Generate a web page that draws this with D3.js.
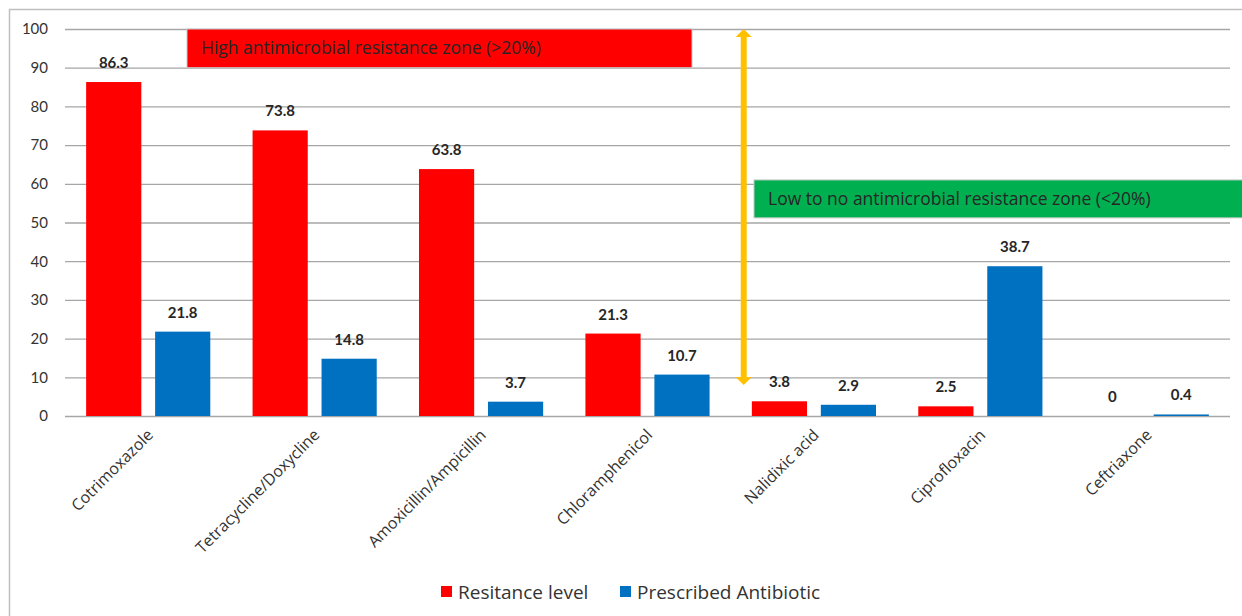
<!DOCTYPE html>
<html>
<head>
<meta charset="utf-8">
<script src="https://cdn.jsdelivr.net/npm/d3@7"></script>
<style>
  body { margin: 0; background: #fff; }
  svg { font-family: "Open Sans", Lato, sans-serif; }
</style>
</head>
<body>
<svg id="chart"></svg>
<script>
const categories = ["Cotrimoxazole", "Tetracycline/Doxycline", "Amoxicillin/Ampicillin",
  "Chloramphenicol", "Nalidixic acid", "Ciprofloxacin", "Ceftriaxone"];
const seriesNames = ["Resitance level", "Prescribed Antibiotic"];
const resistance = [86.3, 73.8, 63.8, 21.3, 3.8, 2.5, 0];
const prescribed = [21.8, 14.8, 3.7, 10.7, 2.9, 38.7, 0.4];
const yTicks = [0, 10, 20, 30, 40, 50, 60, 70, 80, 90, 100];
const colors = ["#FF0000", "#0070C0"];

const W = 1242, H = 616;
const margin = { top: 29, right: 12, bottom: 200, left: 65 };
const width = W - margin.left - margin.right;
const height = H - margin.top - margin.bottom;

const svg = d3.select("#chart").attr("width", W).attr("height", H);

// outer chart border
svg.append("rect")
  .attr("x", 9.5).attr("y", 9.5)
  .attr("width", W).attr("height", H)
  .attr("fill", "none").attr("stroke", "#BFBFBF").attr("stroke-width", 1.5);

const g = svg.append("g").attr("transform", `translate(${margin.left},${margin.top})`);

const x0 = d3.scaleBand().domain(categories).range([0, width]);
const x1 = d3.scaleBand().domain(seriesNames)
  .range([x0.bandwidth() * 0.127, x0.bandwidth() * 0.873])
  .paddingInner(0.2);
const y = d3.scaleLinear().domain([0, 100]).range([height, 0]);

// gridlines
g.append("g").selectAll("line")
  .data(yTicks)
  .join("line")
  .attr("x1", 0).attr("x2", width)
  .attr("y1", (d) => y(d) + 0.5).attr("y2", (d) => y(d) + 0.5)
  .attr("stroke", "#A6A6A6").attr("stroke-width", 1.3);

// y axis labels
const yAxis = d3.axisLeft(y).tickValues(yTicks).tickSize(0).tickPadding(17);
g.append("g").call(yAxis)
  .call((ax) => ax.select(".domain").remove())
  .selectAll("text")
  .attr("font-size", 15).attr("fill", "#333")
  .attr("font-family", "Lato, sans-serif");

const rows = categories.map((c, i) => ({
  key: c,
  values: [
    { series: seriesNames[0], value: resistance[i] },
    { series: seriesNames[1], value: prescribed[i] },
  ],
}));

const groups = g.selectAll("g.cat")
  .data(rows)
  .join("g")
  .attr("class", "cat")
  .attr("transform", (d) => `translate(${x0(d.key)},0)`);

groups.selectAll("rect")
  .data((d) => d.values)
  .join("rect")
  .attr("x", (d) => x1(d.series))
  .attr("y", (d) => y(d.value))
  .attr("width", x1.bandwidth())
  .attr("height", (d) => height - y(d.value))
  .attr("fill", (d, i) => colors[i]);

groups.selectAll("text.val")
  .data((d) => d.values)
  .join("text")
  .attr("class", "val")
  .attr("x", (d) => x1(d.series) + x1.bandwidth() / 2)
  .attr("y", (d) => y(d.value) - 14)
  .attr("text-anchor", "middle")
  .attr("font-family", "Lato, sans-serif")
  .attr("font-size", 15).attr("font-weight", "bold").attr("fill", "#262626")
  .text((d) => d.value);

// rotated category labels
g.append("g").selectAll("text")
  .data(categories)
  .join("text")
  .attr("transform", (d) => `translate(${x0(d) + x0.bandwidth() / 2 + 2},${height + 16}) rotate(-45)`)
  .attr("text-anchor", "end")
  .attr("dy", "0.35em")
  .attr("font-size", 16).attr("fill", "#333")
  .text((d) => d);

// zone annotations
const zones = [
  { label: "High antimicrobial resistance zone (>20%)", x: 122, w: 505, top: 100, bottom: 90, fill: "#FF0000" },
  { label: "Low to no antimicrobial resistance zone (<20%)", x: 689, w: 500, top: 61, bottom: 51.2, fill: "#00B050" },
];
const zg = g.selectAll("g.zone").data(zones).join("g").attr("class", "zone");
zg.append("rect")
  .attr("x", (d) => d.x).attr("y", (d) => y(d.top))
  .attr("width", (d) => d.w).attr("height", (d) => y(d.bottom) - y(d.top))
  .attr("fill", (d) => d.fill).attr("stroke", "#C8C8C8").attr("stroke-width", 1);
zg.append("text")
  .attr("x", (d) => d.x + 14)
  .attr("y", (d) => (y(d.top) + y(d.bottom)) / 2)
  .attr("dy", "0.35em")
  .attr("font-size", 17.5).attr("fill", "#262626")
  .text((d) => d.label);

// double-headed arrow between zones
const ax = x0(categories[4]) + 13;
const arrowTop = y(100), arrowBottom = y(8);
const arrow = g.append("g").attr("fill", "#FFC000");
arrow.append("rect")
  .attr("x", ax - 3).attr("y", arrowTop + 7)
  .attr("width", 6).attr("height", arrowBottom - arrowTop - 14);
arrow.append("path").attr("d", `M${ax},${arrowTop} L${ax + 8},${arrowTop + 8} L${ax - 8},${arrowTop + 8}Z`);
arrow.append("path").attr("d", `M${ax},${arrowBottom} L${ax + 8},${arrowBottom - 8} L${ax - 8},${arrowBottom - 8}Z`);

// legend
const legend = svg.append("g").attr("transform", "translate(441,592)");
const items = [{ name: seriesNames[0], x: 0 }, { name: seriesNames[1], x: 179 }];
const li = legend.selectAll("g").data(items).join("g")
  .attr("transform", (d) => `translate(${d.x},0)`);
li.append("rect").attr("x", 0).attr("y", -6).attr("width", 11).attr("height", 11)
  .attr("fill", (d, i) => colors[i]);
li.append("text").attr("x", 17).attr("dy", "0.35em")
  .attr("font-size", 19).attr("fill", "#333")
  .text((d) => d.name);
</script>
</body>
</html>
